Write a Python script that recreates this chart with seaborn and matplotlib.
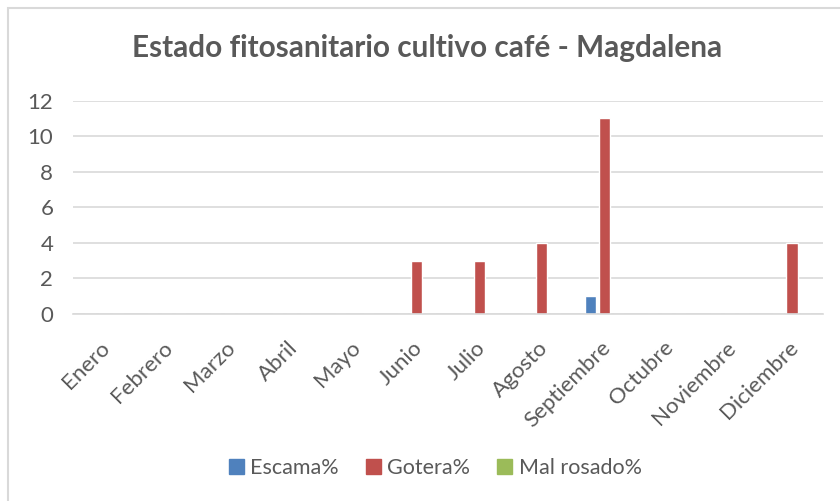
import pandas as pd
import seaborn as sns
import matplotlib.pyplot as plt
import matplotlib.transforms as mtransforms
from matplotlib.patches import Rectangle

meses = ['Enero', 'Febrero', 'Marzo', 'Abril', 'Mayo', 'Junio', 'Julio',
         'Agosto', 'Septiembre', 'Octubre', 'Noviembre', 'Diciembre']
escama = [0, 0, 0, 0, 0, 0, 0, 0, 1, 0, 0, 0]
gotera = [0, 0, 0, 0, 0, 3, 3, 4, 11, 0, 0, 4]
mal_rosado = [0, 0, 0, 0, 0, 0, 0, 0, 0, 0, 0, 0]
series = ['Escama%', 'Gotera%', 'Mal rosado%']
colores = ['#4F81BD', '#C0504D', '#9BBB59']

df = pd.DataFrame({'Mes': meses, 'Escama%': escama, 'Gotera%': gotera,
                   'Mal rosado%': mal_rosado})
df = df.melt(id_vars='Mes', var_name='Serie', value_name='Valor')

sns.set_style('white')
plt.rcParams['font.family'] = ['Lato', 'DejaVu Sans']
gris = '#595959'

fig = plt.figure(figsize=(8.4, 5.01), dpi=100)
ax = fig.add_axes([0.0866, 0.3733, 0.8934, 0.4257])

sns.barplot(data=df, x='Mes', y='Valor', hue='Serie', order=meses,
            hue_order=series, palette=colores, width=0.67, gap=0.2,
            saturation=1, ax=ax, legend=False)

ax.set_ylim(0, 12)
ax.set_yticks(range(0, 13, 2))
ax.set_xlim(-0.5, len(meses) - 0.5)
ax.yaxis.grid(True, color='#D9D9D9', linewidth=1.2)
ax.set_axisbelow(True)
for s in ['top', 'right', 'left']:
    ax.spines[s].set_visible(False)
ax.spines['bottom'].set_color('#D9D9D9')
ax.spines['bottom'].set_linewidth(1.2)
ax.tick_params(axis='both', length=0, colors=gris, labelsize=16)
ax.tick_params(axis='y', pad=14)
ax.tick_params(axis='x', pad=17)
desplaza = mtransforms.ScaledTranslation(-4 / 100, 0, fig.dpi_scale_trans)
for lab in ax.get_xticklabels():
    lab.set_rotation(45)
    lab.set_ha('right')
    lab.set_rotation_mode('anchor')
    lab.set_transform(lab.get_transform() + desplaza)
ax.set_xlabel('')
ax.set_ylabel('')

fig.text(0.508, 0.905, 'Estado fitosanitario cultivo café - Magdalena',
         ha='center', va='center', fontsize=21.4, fontweight='bold', color=gris)

handles = [Rectangle((0, 0), 1, 1, color=c) for c in colores]
fig.legend(handles, series, loc='center', bbox_to_anchor=(0.518, 0.066),
           ncol=3, frameon=False, fontsize=15.5, labelcolor=gris,
           handlelength=0.7, handleheight=0.7, handletextpad=0.3,
           columnspacing=1.25)

fig.patches.append(Rectangle((8 / 840, -0.1), 1.1, 1 - 8 / 501 + 0.1,
                             transform=fig.transFigure, fill=False,
                             edgecolor='#D9D9D9', linewidth=1.5))

fig.savefig('out.png', dpi=100)
